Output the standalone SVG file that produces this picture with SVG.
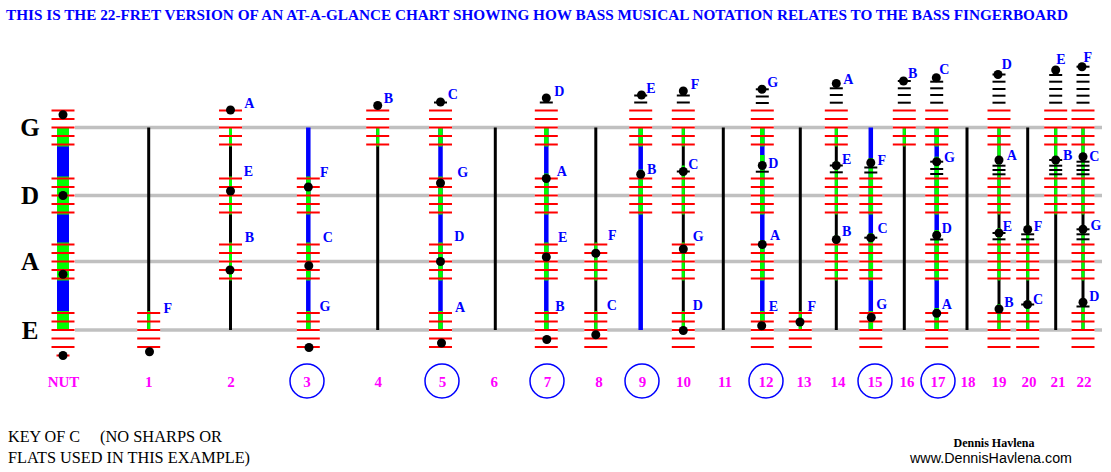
<svg xmlns="http://www.w3.org/2000/svg" width="1111" height="472" viewBox="0 0 1111 472">
<style>
.str{stroke:#c0c0c0;stroke-width:3.5}
.fk{stroke:#000;stroke-width:3}
.fb{stroke:#00f;stroke-width:4.5}
.gk{stroke:#0f0;stroke-width:3}
.gb{stroke:#0f0;stroke-width:4.5}
.lb{font-family:"Liberation Serif",serif;font-weight:bold;font-size:14px;fill:#00f;text-anchor:middle}
.num{font-family:"Liberation Serif",serif;font-weight:bold;font-size:15px;fill:#f0f;text-anchor:middle}
.sl{font-family:"Liberation Serif",serif;font-weight:bold;font-size:25px;fill:#000;text-anchor:middle}
.circ{fill:none;stroke:#00f;stroke-width:1.5}
</style>
<defs>
<g id="stf" stroke="#f00" stroke-width="2">
<line x1="-11.5" x2="11.5" y1="-17" y2="-17"/>
<line x1="-11.5" x2="11.5" y1="-8.5" y2="-8.5"/>
<line x1="-11.5" x2="11.5" y1="0" y2="0"/>
<line x1="-11.5" x2="11.5" y1="8.5" y2="8.5"/>
<line x1="-11.5" x2="11.5" y1="17" y2="17"/>
</g>
<rect id="gap" x="-11.5" y="-2.5" width="23" height="5" fill="#fff"/>
<circle id="dt" r="4.5" fill="#000"/>
<line id="lg" x1="-6.5" x2="6.5" y1="0" y2="0" stroke="#000" stroke-width="2"/>
<line id="lr" x1="-6.5" x2="6.5" y1="0" y2="0" stroke="#f00" stroke-width="2"/>
</defs>
<rect width="1111" height="472" fill="#fff"/>
<text x="6" y="20" font-family="Liberation Serif, serif" font-weight="bold" font-size="15" fill="#00f" textLength="1062" lengthAdjust="spacingAndGlyphs">THIS IS THE 22-FRET VERSION OF AN AT-A-GLANCE CHART SHOWING HOW BASS MUSICAL NOTATION RELATES TO THE BASS FINGERBOARD</text>
<g id="string-labels">
<text class="sl" x="30" y="136">G</text>
<text class="sl" x="30" y="204">D</text>
<text class="sl" x="30" y="270">A</text>
<text class="sl" x="30" y="339">E</text>
</g>
<g id="strings">
<line class="str" x1="75" y1="127.5" x2="1102" y2="127.5"/>
<line class="str" x1="75" y1="195.5" x2="1102" y2="195.5"/>
<line class="str" x1="75" y1="261.5" x2="1102" y2="261.5"/>
<line class="str" x1="75" y1="330" x2="1102" y2="330"/>
</g>

<g id="nut">
<use href="#gap" x="63" y="127.5"/><use href="#gap" x="63" y="195.5"/><use href="#gap" x="63" y="261.5"/><use href="#gap" x="63" y="330"/>
<rect x="57" y="127.5" width="12" height="202.5" fill="#00f"/>
<rect x="57" y="127.5" width="12" height="19" fill="#0f0"/>
<rect x="57" y="176.5" width="12" height="38" fill="#0f0"/>
<rect x="57" y="242.5" width="12" height="38" fill="#0f0"/>
<rect x="57" y="311" width="12" height="19" fill="#0f0"/>
<use href="#stf" x="63" y="127.5"/><use href="#stf" x="63" y="195.5"/><use href="#stf" x="63" y="261.5"/><use href="#stf" x="63" y="330"/>
<use href="#lr" x="63" y="355.5"/>
<use href="#dt" x="63" y="114.75"/><use href="#dt" x="63" y="195.5"/><use href="#dt" x="63" y="274.25"/><use href="#dt" x="63" y="355.5"/>
</g>

<g id="fret-1">
<use href="#gap" x="148.7" y="330"/>
<line class="fk" x1="148.7" y1="127.5" x2="148.7" y2="330"/>
<line class="gk" x1="148.7" y1="311" x2="148.7" y2="330"/>
<use href="#stf" x="148.7" y="330"/>
<use href="#dt" x="149.5" y="351.8"/>
<text class="lb" x="167.7" y="313.3">F</text>
</g>

<g id="fret-2">
<use href="#gap" x="230.5" y="127.5"/><use href="#gap" x="230.5" y="195.5"/><use href="#gap" x="230.5" y="261.5"/>
<line class="fk" x1="230.5" y1="127.5" x2="230.5" y2="330"/>
<line class="gk" x1="230.5" y1="127.5" x2="230.5" y2="146.5"/>
<line class="gk" x1="230.5" y1="176.5" x2="230.5" y2="214.5"/>
<line class="gk" x1="230.5" y1="242.5" x2="230.5" y2="280.5"/>
<use href="#stf" x="230.5" y="127.5"/><use href="#stf" x="230.5" y="195.5"/><use href="#stf" x="230.5" y="261.5"/>
<use href="#dt" x="230.5" y="110"/><use href="#dt" x="230.5" y="191"/><use href="#dt" x="230" y="270"/>
<text class="lb" x="249.3" y="107.7">A</text>
<text class="lb" x="248.3" y="176">E</text>
<text class="lb" x="249.3" y="242.3">B</text>
</g>

<g id="fret-3">
<use href="#gap" x="308.3" y="195.5"/><use href="#gap" x="308.3" y="261.5"/><use href="#gap" x="308.3" y="330"/>
<line class="fb" x1="308.3" y1="127.5" x2="308.3" y2="330"/>
<line class="gb" x1="308.3" y1="176.5" x2="308.3" y2="214.5"/>
<line class="gb" x1="308.3" y1="242.5" x2="308.3" y2="280.5"/>
<line class="gb" x1="308.3" y1="311" x2="308.3" y2="330"/>
<use href="#stf" x="308.3" y="195.5"/><use href="#stf" x="308.3" y="261.5"/><use href="#stf" x="308.3" y="330"/>
<use href="#dt" x="308.3" y="187"/><use href="#dt" x="308.8" y="265.8"/><use href="#dt" x="309" y="347.5"/>
<text class="lb" x="324.3" y="177.3">F</text>
<text class="lb" x="327.7" y="241.7">C</text>
<text class="lb" x="325" y="310.7">G</text>
</g>

<g id="fret-4">
<use href="#gap" x="377.7" y="127.5"/>
<line class="fk" x1="377.7" y1="127.5" x2="377.7" y2="330"/>
<line class="gk" x1="377.7" y1="127.5" x2="377.7" y2="146.5"/>
<use href="#stf" x="377.7" y="127.5"/>
<use href="#dt" x="377.7" y="105.5"/>
<text class="lb" x="388.3" y="102.7">B</text>
</g>

<g id="fret-5">
<use href="#gap" x="440.5" y="127.5"/><use href="#gap" x="440.5" y="195.5"/><use href="#gap" x="440.5" y="261.5"/><use href="#gap" x="440.5" y="330"/>
<line class="fb" x1="440.5" y1="127.5" x2="440.5" y2="330"/>
<line class="gb" x1="440.5" y1="127.5" x2="440.5" y2="146.5"/>
<line class="gb" x1="440.5" y1="176.5" x2="440.5" y2="214.5"/>
<line class="gb" x1="440.5" y1="242.5" x2="440.5" y2="280.5"/>
<line class="gb" x1="440.5" y1="311" x2="440.5" y2="330"/>
<use href="#stf" x="440.5" y="127.5"/><use href="#stf" x="440.5" y="195.5"/><use href="#stf" x="440.5" y="261.5"/><use href="#stf" x="440.5" y="330"/>
<use href="#lg" x="440.5" y="102.5"/>
<use href="#dt" x="440.5" y="102"/><use href="#dt" x="440.5" y="183"/><use href="#dt" x="440.5" y="261.5"/><use href="#dt" x="441.5" y="343"/>
<text class="lb" x="452.7" y="99">C</text>
<text class="lb" x="462.7" y="177.3">G</text>
<text class="lb" x="459.3" y="240.7">D</text>
<text class="lb" x="460" y="311.7">A</text>
</g>

<g id="fret-6">
<line class="fk" x1="495.3" y1="127.5" x2="495.3" y2="330"/>
</g>

<g id="fret-7">
<use href="#gap" x="546.3" y="127.5"/><use href="#gap" x="546.3" y="195.5"/><use href="#gap" x="546.3" y="261.5"/><use href="#gap" x="546.3" y="330"/>
<line class="fb" x1="546.3" y1="127.5" x2="546.3" y2="330"/>
<line class="gb" x1="546.3" y1="127.5" x2="546.3" y2="146.5"/>
<line class="gb" x1="546.3" y1="173.5" x2="546.3" y2="214.5"/>
<line class="gb" x1="546.3" y1="242.5" x2="546.3" y2="280.5"/>
<line class="gb" x1="546.3" y1="311" x2="546.3" y2="330"/>
<use href="#stf" x="546.3" y="127.5"/><use href="#stf" x="546.3" y="195.5"/><use href="#stf" x="546.3" y="261.5"/><use href="#stf" x="546.3" y="330"/>
<use href="#lg" x="546.3" y="102.5"/>
<use href="#dt" x="546.3" y="98"/><use href="#dt" x="546.3" y="178.5"/><use href="#dt" x="546.3" y="257"/><use href="#dt" x="546.8" y="339.5"/>
<text class="lb" x="559.3" y="95.7">D</text>
<text class="lb" x="561.7" y="175.7">A</text>
<text class="lb" x="562.7" y="242.3">E</text>
<text class="lb" x="560" y="311">B</text>
</g>

<g id="fret-8">
<use href="#gap" x="595.8" y="261.5"/><use href="#gap" x="595.8" y="330"/>
<line class="fk" x1="595.8" y1="127.5" x2="595.8" y2="330"/>
<line class="gk" x1="595.8" y1="242.5" x2="595.8" y2="280.5"/>
<line class="gk" x1="595.8" y1="311" x2="595.8" y2="330"/>
<use href="#stf" x="595.8" y="261.5"/><use href="#stf" x="595.8" y="330"/>
<use href="#dt" x="595.8" y="253.2"/><use href="#dt" x="595.8" y="334.8"/>
<text class="lb" x="612.3" y="240">F</text>
<text class="lb" x="611.7" y="310">C</text>
</g>

<g id="fret-9">
<use href="#gap" x="640.7" y="127.5"/><use href="#gap" x="640.7" y="195.5"/>
<line class="fb" x1="640.7" y1="127.5" x2="640.7" y2="330"/>
<line class="gb" x1="640.7" y1="127.5" x2="640.7" y2="146.5"/>
<line class="gb" x1="640.7" y1="169.5" x2="640.7" y2="214.5"/>
<use href="#stf" x="640.7" y="127.5"/><use href="#stf" x="640.7" y="195.5"/>
<use href="#lg" x="640.7" y="102.5"/><use href="#lg" x="640.7" y="95.5"/>
<use href="#dt" x="641.5" y="95"/><use href="#dt" x="640.7" y="174.3"/>
<text class="lb" x="651" y="92.7">E</text>
<text class="lb" x="651.7" y="174.3">B</text>
</g>

<g id="fret-10">
<use href="#gap" x="683.3" y="127.5"/><use href="#gap" x="683.3" y="195.5"/><use href="#gap" x="683.3" y="261.5"/><use href="#gap" x="683.3" y="330"/>
<line class="fk" x1="683.3" y1="127.5" x2="683.3" y2="330"/>
<line class="gk" x1="683.3" y1="127.5" x2="683.3" y2="146.5"/>
<line class="gk" x1="683.3" y1="165.5" x2="683.3" y2="214.5"/>
<line class="gk" x1="683.3" y1="242.5" x2="683.3" y2="280.5"/>
<line class="gk" x1="683.3" y1="311" x2="683.3" y2="330"/>
<use href="#stf" x="683.3" y="127.5"/><use href="#stf" x="683.3" y="195.5"/><use href="#stf" x="683.3" y="261.5"/><use href="#stf" x="683.3" y="330"/>
<use href="#lg" x="683.3" y="102.5"/><use href="#lg" x="683.3" y="95.5"/><use href="#lg" x="683.3" y="171.5"/>
<use href="#dt" x="683.3" y="91"/><use href="#dt" x="683.3" y="171.5"/><use href="#dt" x="683.3" y="249"/><use href="#dt" x="683.3" y="330.5"/>
<text class="lb" x="695" y="89.3">F</text>
<text class="lb" x="693.3" y="169.3">C</text>
<text class="lb" x="698.3" y="241">G</text>
<text class="lb" x="697.7" y="310">D</text>
</g>

<g id="fret-11">
<line class="fk" x1="723.3" y1="127.5" x2="723.3" y2="330"/>
</g>

<g id="fret-12">
<use href="#gap" x="762.3" y="127.5"/><use href="#gap" x="762.3" y="195.5"/><use href="#gap" x="762.3" y="261.5"/><use href="#gap" x="762.3" y="330"/>
<line class="fb" x1="762.3" y1="127.5" x2="762.3" y2="330"/>
<line class="gb" x1="762.3" y1="127.5" x2="762.3" y2="146.5"/>
<line class="gb" x1="762.3" y1="155" x2="762.3" y2="214.5"/>
<line class="gb" x1="762.3" y1="240" x2="762.3" y2="280.5"/>
<line class="gb" x1="762.3" y1="311" x2="762.3" y2="330"/>
<use href="#stf" x="762.3" y="127.5"/><use href="#stf" x="762.3" y="195.5"/><use href="#stf" x="762.3" y="261.5"/><use href="#stf" x="762.3" y="330"/>
<use href="#lg" x="762.3" y="103"/><use href="#lg" x="762.3" y="96.5"/><use href="#lg" x="762.3" y="89.3"/><use href="#lg" x="762.3" y="171.7"/>
<use href="#dt" x="762" y="89.3"/><use href="#dt" x="762.3" y="165.5"/><use href="#dt" x="762.3" y="244.5"/><use href="#dt" x="761.7" y="325.7"/>
<text class="lb" x="772.7" y="86.7">G</text>
<text class="lb" x="773.3" y="167.7">D</text>
<text class="lb" x="775" y="240.3">A</text>
<text class="lb" x="773.3" y="310.7">E</text>
</g>

<g id="fret-13">
<use href="#gap" x="800.3" y="330"/>
<line class="fk" x1="800.3" y1="127.5" x2="800.3" y2="330"/>
<line class="gk" x1="800.3" y1="311" x2="800.3" y2="330"/>
<use href="#stf" x="800.3" y="330"/>
<use href="#dt" x="800" y="322"/>
<text class="lb" x="811.7" y="310.7">F</text>
</g>

<g id="fret-14">
<use href="#gap" x="836.3" y="127.5"/><use href="#gap" x="836.3" y="195.5"/><use href="#gap" x="836.3" y="261.5"/>
<line class="fk" x1="836.3" y1="127.5" x2="836.3" y2="330"/>
<line class="gk" x1="836.3" y1="127.5" x2="836.3" y2="146.5"/>
<line class="gk" x1="836.3" y1="161" x2="836.3" y2="214.5"/>
<line class="gk" x1="836.3" y1="235" x2="836.3" y2="280.5"/>
<use href="#stf" x="836.3" y="127.5"/><use href="#stf" x="836.3" y="195.5"/><use href="#stf" x="836.3" y="261.5"/>
<use href="#lg" x="836.3" y="102.7"/><use href="#lg" x="836.3" y="95"/><use href="#lg" x="836.3" y="88.3"/>
<use href="#lg" x="836.3" y="165.5"/><use href="#lg" x="836.3" y="172.3"/>
<use href="#dt" x="836.3" y="83.5"/><use href="#dt" x="836.3" y="165.5"/><use href="#dt" x="836.3" y="239.5"/>
<text class="lb" x="848.3" y="84.3">A</text>
<text class="lb" x="846.7" y="164.3">E</text>
<text class="lb" x="846.7" y="235.7">B</text>
</g>

<g id="fret-15">
<use href="#gap" x="870.8" y="195.5"/><use href="#gap" x="870.8" y="261.5"/><use href="#gap" x="870.8" y="330"/>
<line class="fb" x1="870.8" y1="127.5" x2="870.8" y2="330"/>
<line class="gb" x1="870.8" y1="158" x2="870.8" y2="214.5"/>
<line class="gb" x1="870.8" y1="233" x2="870.8" y2="280.5"/>
<line class="gb" x1="870.8" y1="311" x2="870.8" y2="330"/>
<use href="#stf" x="870.8" y="195.5"/><use href="#stf" x="870.8" y="261.5"/><use href="#stf" x="870.8" y="330"/>
<use href="#lg" x="870.8" y="167.5"/><use href="#lg" x="870.8" y="172.5"/><use href="#lg" x="870.8" y="237.7"/>
<use href="#dt" x="870.8" y="162.7"/><use href="#dt" x="870.8" y="237.7"/><use href="#dt" x="871.3" y="317.5"/>
<text class="lb" x="881.7" y="164.5">F</text>
<text class="lb" x="882.5" y="233">C</text>
<text class="lb" x="881.7" y="309.3">G</text>
</g>

<g id="fret-16">
<use href="#gap" x="904.3" y="127.5"/>
<line class="fk" x1="904.3" y1="127.5" x2="904.3" y2="330"/>
<line class="gk" x1="904.3" y1="127.5" x2="904.3" y2="146.5"/>
<use href="#stf" x="904.3" y="127.5"/>
<use href="#lg" x="904.3" y="102.7"/><use href="#lg" x="904.3" y="95"/><use href="#lg" x="904.3" y="88.3"/><use href="#lg" x="904.3" y="81"/>
<use href="#dt" x="903.5" y="81"/>
<text class="lb" x="912.7" y="78.3">B</text>
</g>

<g id="fret-17">
<use href="#gap" x="936.7" y="127.5"/><use href="#gap" x="936.7" y="195.5"/><use href="#gap" x="936.7" y="261.5"/><use href="#gap" x="936.7" y="330"/>
<line class="fb" x1="936.7" y1="127.5" x2="936.7" y2="330"/>
<line class="gb" x1="936.7" y1="127.5" x2="936.7" y2="146.5"/>
<line class="gb" x1="936.7" y1="156.7" x2="936.7" y2="214.5"/>
<line class="gb" x1="936.7" y1="230" x2="936.7" y2="280.5"/>
<line class="gb" x1="936.7" y1="308" x2="936.7" y2="330"/>
<use href="#stf" x="936.7" y="127.5"/><use href="#stf" x="936.7" y="195.5"/><use href="#stf" x="936.7" y="261.5"/><use href="#stf" x="936.7" y="330"/>
<use href="#lg" x="936.7" y="102.7"/><use href="#lg" x="936.7" y="95"/><use href="#lg" x="936.7" y="88.3"/><use href="#lg" x="936.7" y="81.7"/>
<use href="#lg" x="936.7" y="161.7"/><use href="#lg" x="936.7" y="169"/><use href="#lg" x="936.7" y="174"/>
<use href="#lg" x="936.7" y="239.5"/>
<use href="#dt" x="936.3" y="77.7"/><use href="#dt" x="936.7" y="161.7"/><use href="#dt" x="936.7" y="235.2"/><use href="#dt" x="936.7" y="313.3"/>
<text class="lb" x="944.3" y="74.3">C</text>
<text class="lb" x="949.5" y="162.3">G</text>
<text class="lb" x="946.7" y="233.3">D</text>
<text class="lb" x="946.7" y="309.3">A</text>
</g>

<g id="fret-18">
<line class="fk" x1="967" y1="127.5" x2="967" y2="330"/>
</g>

<g id="fret-19">
<use href="#gap" x="999" y="127.5"/><use href="#gap" x="999" y="195.5"/><use href="#gap" x="999" y="261.5"/><use href="#gap" x="999" y="330"/>
<line class="fk" x1="999" y1="127.5" x2="999" y2="330"/>
<line class="gk" x1="999" y1="127.5" x2="999" y2="214.5"/>
<line class="gk" x1="999" y1="228" x2="999" y2="280.5"/>
<line class="gk" x1="999" y1="304" x2="999" y2="330"/>
<use href="#stf" x="999" y="127.5"/><use href="#stf" x="999" y="195.5"/><use href="#stf" x="999" y="261.5"/><use href="#stf" x="999" y="330"/>
<use href="#lg" x="999" y="102.7"/><use href="#lg" x="999" y="95.7"/><use href="#lg" x="999" y="89"/><use href="#lg" x="999" y="81.7"/><use href="#lg" x="999" y="74.5"/>
<use href="#lg" x="999" y="165.7"/><use href="#lg" x="999" y="170"/><use href="#lg" x="999" y="174.3"/>
<use href="#lg" x="999" y="233"/><use href="#lg" x="999" y="239.3"/>
<use href="#dt" x="998" y="74.5"/><use href="#dt" x="999" y="160"/><use href="#dt" x="999" y="233"/><use href="#dt" x="999" y="309"/>
<text class="lb" x="1006.7" y="69">D</text>
<text class="lb" x="1011.7" y="160">A</text>
<text class="lb" x="1007.3" y="231">E</text>
<text class="lb" x="1009" y="307.3">B</text>
</g>

<g id="fret-20">
<use href="#gap" x="1027.7" y="261.5"/><use href="#gap" x="1027.7" y="330"/>
<line class="fk" x1="1027.7" y1="127.5" x2="1027.7" y2="330"/>
<line class="gk" x1="1027.7" y1="225" x2="1027.7" y2="280.5"/>
<line class="gk" x1="1027.7" y1="300" x2="1027.7" y2="330"/>
<use href="#stf" x="1027.7" y="261.5"/><use href="#stf" x="1027.7" y="330"/>
<use href="#lg" x="1027.7" y="234.3"/><use href="#lg" x="1027.7" y="239.3"/><use href="#lg" x="1027.7" y="304.5"/>
<use href="#dt" x="1027.7" y="229.5"/><use href="#dt" x="1027.5" y="304.5"/>
<text class="lb" x="1038" y="231">F</text>
<text class="lb" x="1038" y="304">C</text>
</g>

<g id="fret-21">
<use href="#gap" x="1055.7" y="127.5"/><use href="#gap" x="1055.7" y="195.5"/>
<line class="fk" x1="1055.7" y1="127.5" x2="1055.7" y2="330"/>
<line class="gk" x1="1055.7" y1="127.5" x2="1055.7" y2="214.5"/>
<use href="#stf" x="1055.7" y="127.5"/><use href="#stf" x="1055.7" y="195.5"/>
<use href="#lg" x="1055.7" y="102.7"/><use href="#lg" x="1055.7" y="95.7"/><use href="#lg" x="1055.7" y="89"/><use href="#lg" x="1055.7" y="81.7"/><use href="#lg" x="1055.7" y="75"/>
<use href="#lg" x="1055.7" y="160"/><use href="#lg" x="1055.7" y="165.7"/><use href="#lg" x="1055.7" y="170"/><use href="#lg" x="1055.7" y="174.3"/>
<use href="#dt" x="1055.7" y="70"/><use href="#dt" x="1055.7" y="160"/>
<text class="lb" x="1061" y="64.3">E</text>
<text class="lb" x="1067.7" y="160">B</text>
</g>

<g id="fret-22">
<use href="#gap" x="1083" y="127.5"/><use href="#gap" x="1083" y="195.5"/><use href="#gap" x="1083" y="261.5"/><use href="#gap" x="1083" y="330"/>
<line class="fk" x1="1083" y1="127.5" x2="1083" y2="330"/>
<line class="gk" x1="1083" y1="127.5" x2="1083" y2="214.5"/>
<line class="gk" x1="1083" y1="225" x2="1083" y2="280.5"/>
<line class="gk" x1="1083" y1="298" x2="1083" y2="330"/>
<use href="#stf" x="1083" y="127.5"/><use href="#stf" x="1083" y="195.5"/><use href="#stf" x="1083" y="261.5"/><use href="#stf" x="1083" y="330"/>
<use href="#lg" x="1083" y="102.7"/><use href="#lg" x="1083" y="95.7"/><use href="#lg" x="1083" y="89"/><use href="#lg" x="1083" y="81.7"/><use href="#lg" x="1083" y="75"/><use href="#lg" x="1083" y="66.7"/>
<use href="#lg" x="1083" y="161.7"/><use href="#lg" x="1083" y="165.7"/><use href="#lg" x="1083" y="170"/><use href="#lg" x="1083" y="174.3"/>
<use href="#lg" x="1083" y="229.3"/><use href="#lg" x="1083" y="234.3"/><use href="#lg" x="1083" y="239.3"/>
<use href="#lg" x="1083" y="306.5"/>
<use href="#dt" x="1082" y="66.7"/><use href="#dt" x="1083" y="156.7"/><use href="#dt" x="1083" y="229.3"/><use href="#dt" x="1083" y="302.3"/>
<text class="lb" x="1087.7" y="61.7">F</text>
<text class="lb" x="1094.3" y="160.7">C</text>
<text class="lb" x="1096" y="230">G</text>
<text class="lb" x="1094.3" y="300.7">D</text>
</g>

<g id="fret-numbers">
<circle class="circ" cx="307" cy="381" r="17"/>
<circle class="circ" cx="442" cy="381" r="17"/>
<circle class="circ" cx="547" cy="381" r="17"/>
<circle class="circ" cx="642" cy="381" r="17"/>
<circle class="circ" cx="766" cy="381" r="17"/>
<circle class="circ" cx="875" cy="381" r="17"/>
<circle class="circ" cx="938" cy="381" r="17"/>
<text class="num" x="63.5" y="387">NUT</text>
<text class="num" x="148.7" y="387">1</text>
<text class="num" x="231" y="387">2</text>
<text class="num" x="307" y="387">3</text>
<text class="num" x="378.3" y="387">4</text>
<text class="num" x="442.5" y="387">5</text>
<text class="num" x="494.3" y="387">6</text>
<text class="num" x="547.5" y="387">7</text>
<text class="num" x="599" y="387">8</text>
<text class="num" x="642.5" y="387">9</text>
<text class="num" x="683.5" y="387">10</text>
<text class="num" x="725" y="387">11</text>
<text class="num" x="766" y="387">12</text>
<text class="num" x="804" y="387">13</text>
<text class="num" x="838" y="387">14</text>
<text class="num" x="875" y="387">15</text>
<text class="num" x="907" y="387">16</text>
<text class="num" x="938" y="387">17</text>
<text class="num" x="968" y="387">18</text>
<text class="num" x="999" y="387">19</text>
<text class="num" x="1029" y="387">20</text>
<text class="num" x="1058" y="387">21</text>
<text class="num" x="1084" y="387">22</text>
</g>

<g id="key-note" font-family="Liberation Serif, serif" font-size="16" fill="#000">
<text x="8" y="442" textLength="72" lengthAdjust="spacingAndGlyphs">KEY OF C</text>
<text x="100" y="442" textLength="122" lengthAdjust="spacingAndGlyphs">(NO SHARPS OR</text>
<text x="8" y="463" textLength="242" lengthAdjust="spacingAndGlyphs">FLATS USED IN THIS EXAMPLE)</text>
</g>
<g id="credit">
<text x="994" y="446.5" font-family="Liberation Serif, serif" font-weight="bold" font-size="12" fill="#000" text-anchor="middle">Dennis Havlena</text>
<text x="910" y="463" font-family="Liberation Sans, sans-serif" font-size="14" fill="#000" textLength="162" lengthAdjust="spacingAndGlyphs">www.DennisHavlena.com</text>
</g>
</svg>
